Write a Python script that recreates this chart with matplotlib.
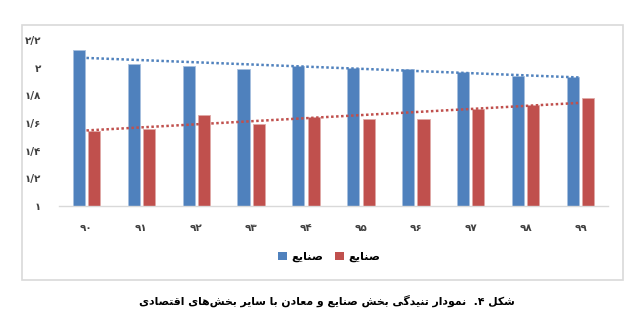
import numpy as np
import matplotlib
matplotlib.use("Agg")
import matplotlib.pyplot as plt
from matplotlib.patches import Rectangle, Patch

# ---------------- data ----------------
years = ["۹۰", "۹۱", "۹۲", "۹۳", "۹۴", "۹۵", "۹۶", "۹۷", "۹۸", "۹۹"]
series_blue = [2.125, 2.03, 2.01, 1.99, 2.01, 2.00, 1.99, 1.97, 1.94, 1.93]
series_red = [1.54, 1.56, 1.66, 1.59, 1.64, 1.63, 1.63, 1.70, 1.73, 1.78]
ytick_values = [1.0, 1.2, 1.4, 1.6, 1.8, 2.0, 2.2]
ytick_labels = ["۱", "۱/۲", "۱/۴", "۱/۶", "۱/۸", "۲", "۲/۲"]
legend_blue = "صنایع"
legend_red = "صنایع"
caption = "شکل ۴.  نمودار تنیدگی بخش صنایع و معادن با سایر بخش‌های اقتصادی"

# ------------- minimal Persian shaping (matplotlib has no complex text layout) -------------
FORMS = {
    "ا": ("\uFE8D", "\uFE8E", None, None),
    "ب": ("\uFE8F", "\uFE90", "\uFE91", "\uFE92"),
    "ت": ("\uFE95", "\uFE96", "\uFE97", "\uFE98"),
    "خ": ("\uFEA5", "\uFEA6", "\uFEA7", "\uFEA8"),
    "د": ("\uFEA9", "\uFEAA", None, None),
    "ر": ("\uFEAD", "\uFEAE", None, None),
    "س": ("\uFEB1", "\uFEB2", "\uFEB3", "\uFEB4"),
    "ش": ("\uFEB5", "\uFEB6", "\uFEB7", "\uFEB8"),
    "ص": ("\uFEB9", "\uFEBA", "\uFEBB", "\uFEBC"),
    "ع": ("\uFEC9", "\uFECA", "\uFECB", "\uFECC"),
    "ق": ("\uFED5", "\uFED6", "\uFED7", "\uFED8"),
    "ک": ("\uFB8E", "\uFB8F", "\uFB90", "\uFB91"),
    "گ": ("\uFB92", "\uFB93", "\uFB94", "\uFB95"),
    "ل": ("\uFEDD", "\uFEDE", "\uFEDF", "\uFEE0"),
    "م": ("\uFEE1", "\uFEE2", "\uFEE3", "\uFEE4"),
    "ن": ("\uFEE5", "\uFEE6", "\uFEE7", "\uFEE8"),
    "ه": ("\uFEE9", "\uFEEA", "\uFEEB", "\uFEEC"),
    "و": ("\uFEED", "\uFEEE", None, None),
    "ی": ("\uFEEF", "\uFEF0", "\uFEF3", "\uFEF4"),
}


def dual(c):
    return c in FORMS and FORMS[c][2] is not None


def shape(text):
    out = []
    n = len(text)
    for i, c in enumerate(text):
        if c == "\u200c":
            continue
        if c not in FORMS:
            out.append(c)
            continue
        prev = text[i - 1] if i > 0 else ""
        nxt = text[i + 1] if i + 1 < n else ""
        jp = dual(prev)
        jn = dual(c) and nxt in FORMS
        iso, fin, ini, med = FORMS[c]
        if jp and jn:
            out.append(med)
        elif jp:
            out.append(fin)
        elif jn:
            out.append(ini)
        else:
            out.append(iso)
    return "".join(out)[::-1]


plt.rcParams["font.family"] = ["DejaVu Sans"]

W, H = 639, 324
fig = plt.figure(figsize=(W / 100, H / 100), dpi=100)

# outer chart frame
fig.patches.append(Rectangle((22 / W, 1 - 280 / H), 601 / W, 255 / H,
                             transform=fig.transFigure, fill=False,
                             edgecolor="#d9d9d9", linewidth=1.2))

ax = fig.add_axes([59 / W, 1 - 206 / H, 549 / W, 166 / H])
x = np.arange(len(years))
w = 0.22
off = 0.14
blue = "#4F81BD"
red = "#C0504D"
ax.bar(x - off, series_blue, w, bottom=0, color=blue, edgecolor="#a7bfdf", linewidth=0.6)
ax.bar(x + off, series_red, w, bottom=0, color=red, edgecolor="#e0a9a7", linewidth=0.6)

# linear trend lines
for vals, col in ((series_blue, blue), (series_red, red)):
    p = np.polyfit(x, vals, 1)
    ax.plot(x, np.polyval(p, x), color=col, linestyle=(0, (1, 1)), linewidth=1.8)

ax.set_xlim(-0.5, len(years) - 0.5)
ax.set_ylim(1.0, 2.2)
ax.set_yticks(ytick_values)
ax.set_yticklabels(ytick_labels, fontsize=7.5, fontweight="bold")
ax.set_xticks(x)
ax.set_xticklabels(years, fontsize=7.5, fontweight="bold")
ax.tick_params(axis="both", length=0, colors="#404040")
ax.tick_params(axis="x", pad=12)
ax.tick_params(axis="y", pad=13)
for s in ("top", "right", "left"):
    ax.spines[s].set_visible(False)
ax.spines["bottom"].set_color("#d9d9d9")
ax.spines["bottom"].set_linewidth(1.0)

handles = [Patch(facecolor=blue, edgecolor="none", label=shape(legend_blue)),
           Patch(facecolor=red, edgecolor="none", label=shape(legend_red))]
fig.legend(handles=handles, loc="center", bbox_to_anchor=(329 / W, 1 - 257 / H),
           ncol=2, frameon=False, handlelength=0.8, handleheight=0.8,
           handletextpad=0.4, columnspacing=1.0, prop={"weight": "bold", "size": 8.2})

fig.text(327 / W, 1 - 301 / H, shape(caption), ha="center", va="center",
         fontsize=7.8, fontweight="bold", color="#000000")

fig.savefig("out.png", dpi=100)
